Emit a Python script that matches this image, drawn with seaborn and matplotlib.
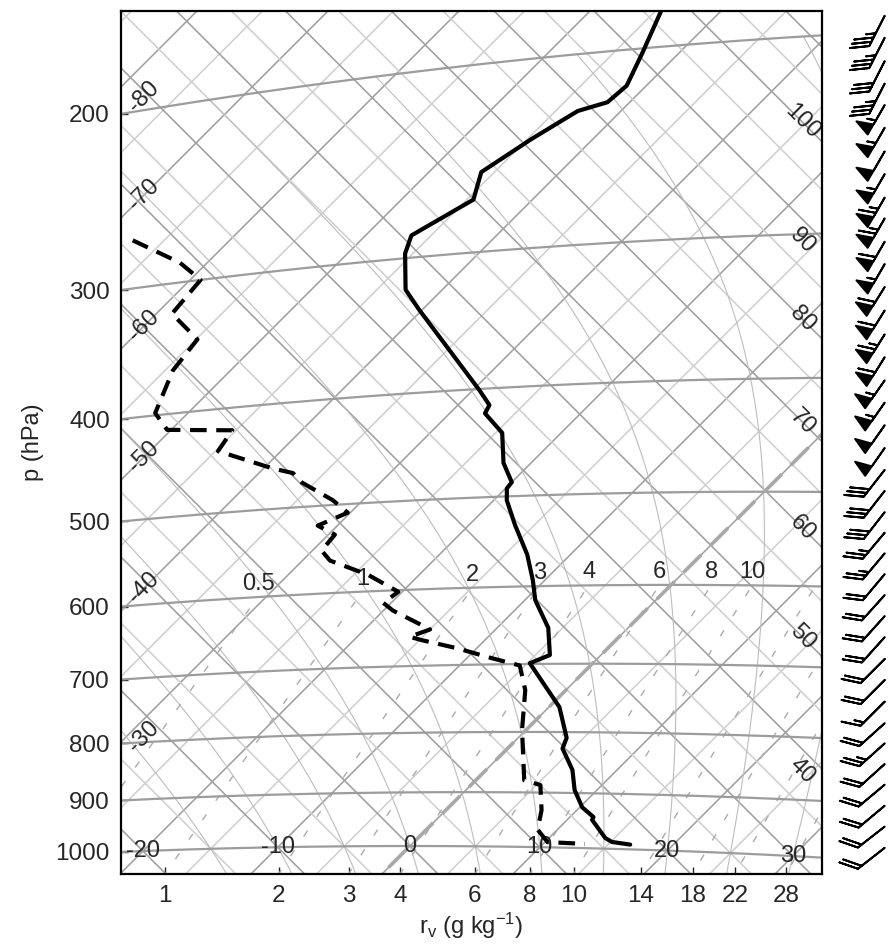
import numpy as np
import matplotlib
matplotlib.use("Agg")
import matplotlib.pyplot as plt
import seaborn as sns

# Temperature profile (hPa, degC)
p_temp = [185, 202, 216, 223, 226, 238, 253, 268, 286, 297,
          321, 336, 401, 414, 421, 439, 467, 486, 492, 504,
          530, 563, 593, 617, 652, 688, 699, 730, 762, 809,
          826, 861, 895, 925, 942, 947, 980, 987, 991]
temp = [-44.6, -42.8, -41.5, -41.7, -43.3, -44.7, -46.0, -44.5, -46.5, -45.6,
        -42.8, -40.2, -29.5, -27.6, -27.3, -24.5, -22.1, -20.0, -19.9, -19.0,
        -16.5, -13.3, -10.9, -9.2, -6.1, -3.9, -4.8, -2.0, 0.8, 3.7,
        4.2, 6.6, 8.3, 10.2, 11.8, 11.9, 14.3, 15.1, 16.7]

# Dewpoint profile (hPa, degC)
p_dew = [269, 287, 300, 321, 342, 364, 398, 414, 420, 438,
         459, 465, 475, 495, 509, 521, 532, 549, 561, 580,
         602, 615, 625, 651, 660, 665, 677, 691, 702, 737,
         797, 879, 887, 931, 967, 990, 992]
dewp = [-67.4, -62.1, -59.2, -58.8, -54.9, -54.4, -52.5, -50.3, -45.3, -44.8,
        -39.3, -37.4, -36.0, -32.3, -30.2, -31.5, -29.5, -29.3, -27.9, -23.9,
        -20.3, -20.6, -19.3, -15.0, -16.0, -14.8, -11.5, -8.2, -5.4, -3.1,
        -0.3, 3.7, 5.3, 7.3, 8.5, 10.2, 13.2]

# Wind barbs: level (hPa), speed, direction (deg, wind from)
barb_p = [192, 201, 211, 221, 231, 242, 254, 266, 279, 291,
          305, 319, 334, 350, 367, 384, 402, 420, 439, 459,
          479, 499, 520, 541, 563, 586, 610, 635, 661, 689,
          717, 747, 778, 808, 840, 873, 908, 944, 982]
barb_spd = [35, 35, 30, 35, 55, 55, 50, 55, 65, 65,
            60, 55, 60, 60, 65, 60, 55, 55, 50, 50,
            30, 30, 30, 25, 25, 20, 20, 20, 20, 20,
            20, 15, 20, 25, 20, 20, 20, 20, 20]
barb_dir = [207, 207, 207, 207, 210, 210, 210, 210, 210, 210,
            210, 210, 212, 212, 212, 212, 215, 215, 215, 215,
            218, 218, 218, 220, 220, 220, 222, 222, 222, 225,
            225, 225, 228, 228, 228, 230, 230, 232, 232]

isobars = [1000, 900, 800, 700, 600, 500, 400, 300, 200]
isotherm_vals = list(range(-120, 65, 5))
theta_vals = list(range(-40, 205, 5))
theta_w_vals = [-15, -10, -5, 0, 5, 10, 15, 20, 25, 30, 35]
mixing_vals = [0.5, 1, 2, 3, 4, 6, 8, 10, 14, 18, 22, 28]
mixing_labels = [0.5, 1, 2, 3, 4, 6, 8, 10]
bottom_ticks = [1, 2, 3, 4, 6, 8, 10, 14, 18, 22, 28]
bottom_T_labels = [-20, -10, 0, 10, 20, 30]
left_T_labels = [-80, -70, -60, -50, -40, -30]
theta_labels = [100, 90, 80, 70, 60, 50, 40]
# small vertical nudges (diagram units) for a few edge labels
left_nudge = {-80: -5.0, -30: -2.7}
right_nudge = {90: -3.3, 40: -3.3}

KAPPA = 0.2857
T0 = 273.15


def teph_xy(p, t):
    p = np.asarray(p, float)
    t = np.asarray(t, float)
    theta = (t + T0) * (1000.0 / p) ** KAPPA
    v = T0 * np.log(theta / T0)
    return t + v, v - t


def y_at_x(p, xval):
    tt = np.linspace(-160, 90, 5001)
    xx, yy = teph_xy(np.full_like(tt, p), tt)
    return np.interp(xval, xx, yy)


def dewpoint_from_w(w, p):
    e = w * p / (622.0 + w)
    lg = np.log(e / 6.112)
    return 243.5 * lg / (17.67 - lg)


def moist_adiabat(tw, p_top=200.0, p_bot=1100.0):
    rd, cp, lv, eps = 287.04, 1005.7, 2.501e6, 0.622

    def dtdp(p, tk):
        tc = tk - T0
        es = 6.112 * np.exp(17.67 * tc / (tc + 243.5))
        rs = eps * es / (p - es)
        return (rd * tk + lv * rs) / (p * (cp + lv * lv * rs * eps / (rd * tk * tk)))

    out = []
    for p_end in (p_top, p_bot):
        ps = np.linspace(1000.0, p_end, 801)
        tk = tw + T0
        ts = [tk]
        for i in range(len(ps) - 1):
            dp = ps[i + 1] - ps[i]
            k1 = dtdp(ps[i], tk)
            k2 = dtdp(ps[i] + dp / 2, tk + k1 * dp / 2)
            tk = tk + k2 * dp
            ts.append(tk)
        out.append((ps, np.array(ts) - T0))
    ps = np.concatenate([out[0][0][::-1], out[1][0][1:]])
    ts = np.concatenate([out[0][1][::-1], out[1][1][1:]])
    return ps, ts


sns.set_theme(style="white")
plt.rcParams['font.family'] = ['Liberation Sans', 'DejaVu Sans']
plt.rcParams['mathtext.fontset'] = 'custom'
plt.rcParams['mathtext.rm'] = 'Liberation Sans'
plt.rcParams['mathtext.it'] = 'Liberation Sans'

SCALE = 6.55
XL, XR = (121 - 410) / SCALE, (822 - 410) / SCALE
YB, YT = (846 - 874) / SCALE, (846 - 11) / SCALE
FS = 17

fig = plt.figure(figsize=(8.88, 9.48), dpi=100)
ax = fig.add_axes([121 / 888, 74 / 948, 701 / 888, 863 / 948])
ax.set_xlim(XL, XR)
ax.set_ylim(YB, YT)

dark, light = '#a0a0a0', '#d0d0d0'
p_line = np.geomspace(40, 1300, 200)

# isotherms
for t in isotherm_vals:
    x, y = teph_xy(p_line, np.full_like(p_line, t))
    ax.plot(x, y, color=dark if t % 10 == 0 else light, lw=1.15, zorder=1)

# dry adiabats
for th in theta_vals:
    tt = (th + T0) * (p_line / 1000.0) ** KAPPA - T0
    x, y = teph_xy(p_line, tt)
    ax.plot(x, y, color=dark if th % 10 == 0 else light, lw=1.15, zorder=1)

# saturated adiabats
for tw in theta_w_vals:
    ps, ts = moist_adiabat(tw)
    x, y = teph_xy(ps, ts)
    ax.plot(x, y, color='#bdbdbd', lw=0.8, zorder=1)

# saturation mixing ratio lines
p_mr = np.linspace(1100, 600, 120)
for w in mixing_vals:
    x, y = teph_xy(p_mr, dewpoint_from_w(w, p_mr))
    ax.plot(x, y, color='#ababab', lw=1.0, dashes=(5, 12), zorder=1)
for w in mixing_labels:
    x, y = teph_xy(600, dewpoint_from_w(w, 600))
    ax.text(x, y + 0.3, f"{w:g}", ha='center', va='bottom', fontsize=FS, zorder=3)

# isobars
t_line = np.linspace(-140, 80, 300)
for p in isobars:
    x, y = teph_xy(np.full_like(t_line, p), t_line)
    ax.plot(x, y, color='#9c9c9c', lw=1.6, zorder=2)

# 0 degC isotherm highlighted
x0, y0 = teph_xy(p_line, np.zeros_like(p_line))
ax.plot(x0, y0, color='#a8a8a8', lw=2.6, dashes=(7, 3.5), zorder=2)

# grid labels
for t in bottom_T_labels:
    x, y = teph_xy(1000, t)
    ax.text(x, y, f"{t}", ha='center', va='center', fontsize=FS, zorder=3)
for t in left_T_labels:
    xl = XL + 3.5
    ax.text(xl, xl - 2 * t + left_nudge.get(t, 0.0), f"{t}", ha='center',
            va='center', rotation=45, fontsize=FS, zorder=3)
for th in theta_labels:
    xr = XR - 3.0
    v = T0 * np.log((th + T0) / T0)
    ax.text(xr, 2 * v - xr + right_nudge.get(th, 0.0), f"{th}", ha='center',
            va='center', rotation=-45, fontsize=FS, zorder=3)

# sounding
xt, yt = teph_xy(p_temp, temp)
sns.lineplot(x=xt, y=yt, sort=False, estimator=None, color='black', lw=3.0,
             ax=ax, zorder=5)
xd, yd = teph_xy(p_dew, dewp)
sns.lineplot(x=xd, y=yd, sort=False, estimator=None, color='black', lw=3.0,
             ax=ax, zorder=5)
ax.lines[-1].set_dashes((4, 2.3))

# axes ticks: pressure where isobars meet the left edge,
# mixing ratio where the saturation lines meet the bottom edge
yticks = [y_at_x(p, XL) for p in isobars]
ax.set_yticks(yticks)
ax.set_yticklabels([str(p) for p in isobars])
xticks = []
for w in bottom_ticks:
    xx, yy = teph_xy(p_mr, dewpoint_from_w(w, p_mr))
    xticks.append(np.interp(YB, yy, xx))
ax.set_xticks(xticks)
ax.set_xticklabels([str(w) for w in bottom_ticks])
ax.tick_params(direction='in', length=5, width=1, labelsize=FS + 0.5, pad=8,
               bottom=True, left=True)
ax.set_ylabel('p (hPa)', fontsize=FS, labelpad=8)
ax.set_xlabel(r'r$_\mathregular{v}$ (g kg$^\mathregular{-1}$)', fontsize=FS, labelpad=3)
for s in ax.spines.values():
    s.set_color('black')
    s.set_linewidth(1.6)
    s.set_zorder(6)

# wind barbs (swept-back feathers; narrower geometry where pennants appear)
bx = fig.add_axes([822 / 888, 74 / 948, 66 / 888, 863 / 948])
bx.set_xlim(0, 1)
bx.set_ylim(YB, YT)
bx.axis('off')
spd = np.array(barb_spd, float)
wd = np.deg2rad(barb_dir)
u = -spd * np.sin(wd)
v = -spd * np.cos(wd)
by = np.array([y_at_x(p, XR) for p in barb_p])
strong = spd >= 50
for mask, wid in ((strong, 0.34), (~strong, 0.62)):
    bx.barbs(np.full(mask.sum(), 0.95), by[mask], u[mask], v[mask],
             length=7.0, linewidth=1.4, color='black', clip_on=False,
             sizes=dict(emptybarb=0, height=0.48, width=wid, spacing=0.14))

fig.savefig('out.png', dpi=100)
